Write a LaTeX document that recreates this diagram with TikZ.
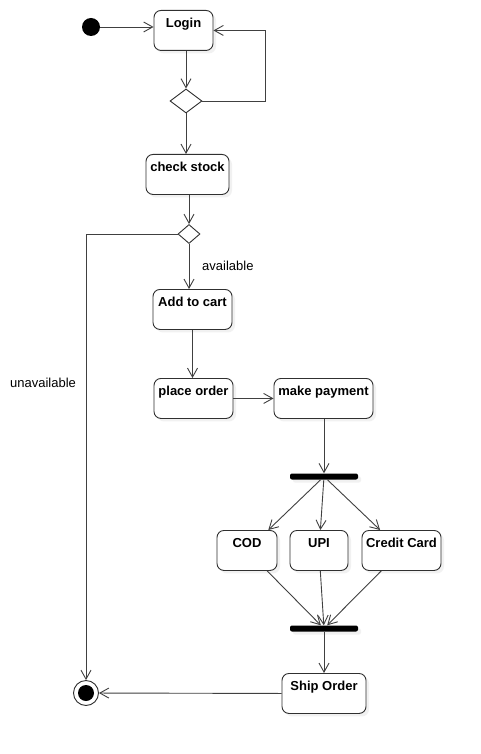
\documentclass[tikz,border=0pt]{standalone}
\usepackage{fontspec}
\setmainfont{Liberation Sans}
\usetikzlibrary{arrows.meta,shapes.geometric,shadows,calc}
\definecolor{ln}{HTML}{404040}
\definecolor{bd}{HTML}{303030}
\begin{document}
\begin{tikzpicture}[x=1pt,y=-1pt,
  every node/.style={font=\fontsize{13pt}{15pt}\selectfont},
  act/.style={draw=bd, line width=0.9pt, rounded corners=7pt, fill=white, anchor=north,
    inner xsep=0pt, inner ysep=0pt, text height=17pt, text depth=23pt,
    font=\fontsize{13pt}{15pt}\selectfont\bfseries,
    drop shadow={shadow xshift=3pt,shadow yshift=-3pt,fill=black!10}},
  arr/.style={draw=ln, line width=0.9pt, -{Straight Barb[length=9pt,width=10pt]}},
  bar/.style={fill=black, rounded corners=2pt, minimum width=68pt, minimum height=6pt, inner sep=0pt,
    drop shadow={shadow xshift=3pt,shadow yshift=-3pt,fill=black!10}},
  dec/.style={diamond, draw=bd, fill=white, line width=0.9pt, inner sep=0pt},
  lbl/.style={inner sep=0pt, anchor=west}
]
\useasboundingbox[fill=white] (0,0) rectangle (481,754);

\node[circle, fill=black, minimum size=18pt, inner sep=0pt] (start) at (91,27) {};
\node[act, minimum width=59pt] (login) at (183.5,10) {Login};
\node[dec, minimum width=32pt, minimum height=24pt] (d1) at (186,101) {};
\node[act, minimum width=83pt] (check) at (187.5,154) {check stock};
\node[dec, minimum width=22pt, minimum height=19pt] (d2) at (189,234) {};
\node[act, minimum width=79pt] (cart) at (192.5,289) {Add to cart};
\node[act, minimum width=79pt] (place) at (193.5,378) {place order};
\node[act, minimum width=99pt] (pay) at (323.5,378) {make payment};
\node[bar] (fork) at (324,476.5) {};
\node[act, minimum width=60pt] (cod) at (247,530) {COD};
\node[act, minimum width=58pt] (upi) at (319,530) {UPI};
\node[act, minimum width=79pt] (cc) at (401.5,530) {Credit Card};
\node[bar] (join) at (324,628.5) {};
\node[act, minimum width=84pt] (ship) at (324,673) {Ship Order};
\node[circle, draw=bd, fill=white, minimum size=25pt, line width=0.9pt, inner sep=0pt] (final) at (86,693) {};
\node[circle, fill=black, minimum size=16pt, inner sep=0pt] (finaldot) at (final.center) {};

\node[lbl] (lav) at (202,266) {available};
\node[lbl] (lun) at (10,383) {unavailable};

\coordinate (loopx) at (265,101);

\draw[arr] (start) -- (start -| login.west);
\draw[arr] (login.south -| d1.north) -- (d1.north);
\draw[arr] (d1.east) -- (loopx) |- (login.east);
\draw[arr] (d1.south) -- (d1.south |- check.north);
\draw[arr] (check.south -| d2.north) -- (d2.north);
\draw[arr] (d2.south) -- (d2.south |- cart.north);
\draw[arr] (d2.west) -| (final.north);
\draw[arr] (cart.south) -- (cart.south |- place.north);
\draw[arr] (place.east) -- (pay.west);
\draw[arr] (pay.south -| fork.north) -- (fork.north);
\draw[arr] (fork) -- (cod);
\draw[arr] (fork) -- (upi);
\draw[arr] (fork) -- (cc);
\draw[arr] (cod) -- (join);
\draw[arr] (upi) -- (join);
\draw[arr] (cc) -- (join);
\draw[arr] (join.south -| ship.north) -- (ship.north);
\draw[arr] (ship.west) -- (final);
\end{tikzpicture}
\end{document}
